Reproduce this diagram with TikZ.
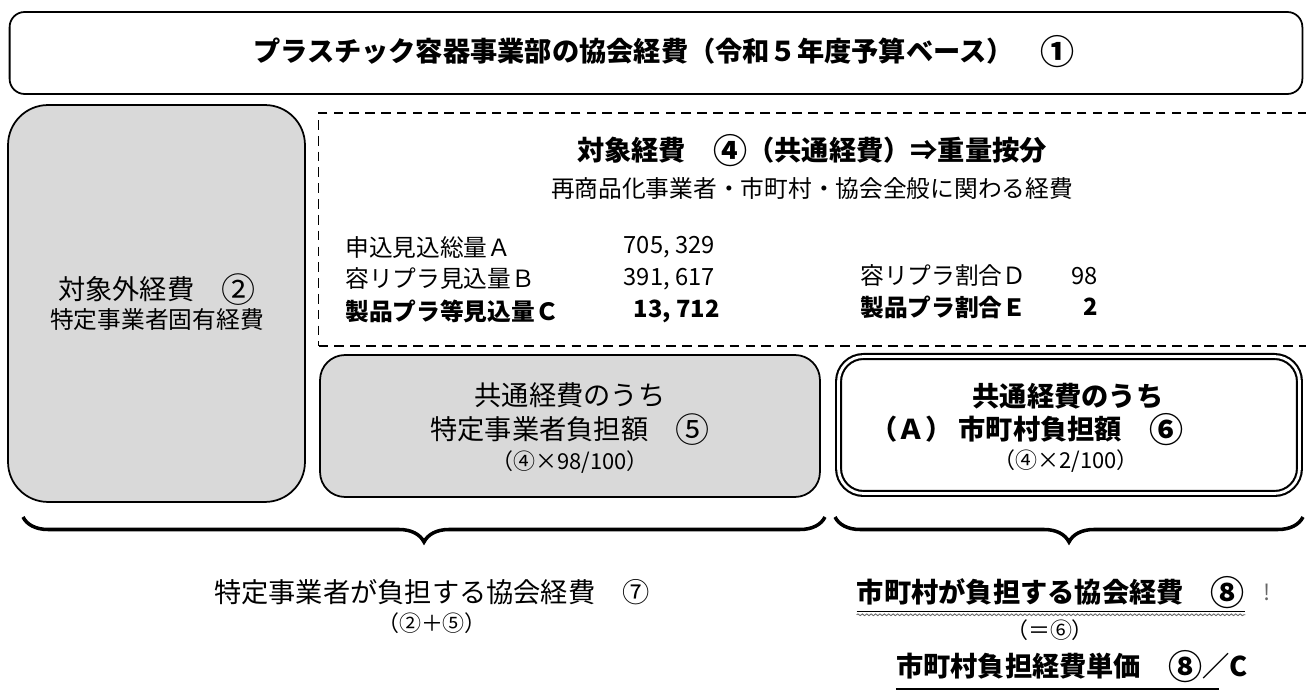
\documentclass[tikz,border=0pt]{standalone}
\usepackage{fontspec}
\setmainfont{Noto Sans CJK JP}
\usetikzlibrary{shapes,arrows,positioning,decorations.pathreplacing,decorations.pathmorphing}
\tikzstyle{panel} = [rectangle, draw=black, line width=1pt, inner sep=0pt]
\tikzstyle{grey} = [panel, fill=black!15]
\tikzstyle{big} = [inner sep=0pt, font=\fontsize{15.5}{18}\selectfont]
\tikzstyle{bigb} = [inner sep=0pt, font=\fontsize{15.5}{18}\selectfont\bfseries]
\tikzstyle{mid} = [inner sep=0pt, font=\fontsize{13.5}{16}\selectfont]
\tikzstyle{midb} = [inner sep=0pt, font=\fontsize{13.5}{16}\selectfont\bfseries]
\tikzstyle{small} = [inner sep=0pt, font=\fontsize{12.5}{15}\selectfont]
\tikzstyle{brc} = [decorate, decoration={brace, mirror, amplitude=0.5cm, aspect=0.5}, line width=2pt]
\newcommand{\cnum}[1]{\raisebox{-0.12em}{\scalebox{1.25}{#1}}}

\begin{document}
\begin{tikzpicture}[x=0.02cm, y=-0.02cm, node distance=0.6cm]
		\useasboundingbox (0,0) rectangle (1306,695);
		% boxes
		\node[panel, rounded corners=0.3cm, minimum width=25.86cm, minimum height=1.64cm] (top) at (656,53) {};
		\node[grey, rounded corners=0.8cm, minimum width=5.94cm, minimum height=7.94cm] (outer) at (156.5,303.5) {};
		\node[panel, dashed, dash pattern=on 5.5pt off 3.5pt, line width=1pt, minimum width=19.9cm, minimum height=4.66cm] (common) at (816,229.5) {};
		\node[grey, rounded corners=0.5cm, minimum width=10cm, minimum height=2.84cm] (five) at (570,426) {};
		\node[panel, double, line width=1.2pt, double distance=1.6pt, rounded corners=0.5cm, minimum width=9.22cm, minimum height=2.74cm] (six) at (1069,425) {};

		% texts
		\node[bigb] (title) at (664,52) {プラスチック容器事業部の協会経費（令和５年度予算ベース）　\cnum{①}};
		\node[big] (outert) at (157,290) {対象外経費　\cnum{②}};
		\node[mid, below of=outert] (outers) {特定事業者固有経費};
		\node[bigb] (commont) at (812,151) {対象経費　\cnum{④}（共通経費）⇒重量按分};
		\node[mid] (commons) at (812,188) {再商品化事業者・市町村・協会全般に関わる経費};
		\node[mid, anchor=west] (rowA) at (345,247) {申込見込総量Ａ};
		\node[mid, anchor=west] (rowB) at (345,279) {容リプラ見込量Ｂ};
		\node[midb, anchor=west] (rowC) at (345,311) {製品プラ等見込量Ｃ};
		\node[mid, anchor=east] (valA) at (715,247) {705, 329};
		\node[mid, anchor=east] (valB) at (715,279) {391, 617};
		\node[midb, anchor=east] (valC) at (720,311) {13, 712};
		\node[mid, anchor=west] (rowD) at (860,276) {容リプラ割合Ｄ};
		\node[mid, anchor=east] (valD) at (1098,276) {98};
		\node[midb, anchor=west] (rowE) at (860,307) {製品プラ割合Ｅ};
		\node[midb, anchor=east] (valE) at (1098,307) {2};
		\node[big] (fivea) at (570,395) {共通経費のうち};
		\node[big] (fiveb) at (570,430) {特定事業者負担額　\cnum{⑤}};
		\node[small] (fivec) at (570,462) {（④×98/100）};
		\node[bigb] (sixa) at (1068,396) {共通経費のうち};
		\node[bigb] (sixb) at (1027,430) {（Ａ） 市町村負担額　\cnum{⑥}};
		\node[small] (sixc) at (1066,461) {（④×2/100）};

		% braces
		\coordinate (bl) at (23,517);
		\coordinate (bm) at (825,517);
		\coordinate (cl) at (835,517);
		\coordinate (cr) at (1303,517);
		\draw[brc] (bl) -- (bm);
		\draw[brc] (cl) -- (cr);

		\node[big] (seven) at (432,592) {特定事業者が負担する協会経費　⑦};
		\node[small] (sevenf) at (432,623) {（②＋⑤）};
		\node[bigb] (eight) at (1051,593) {市町村が負担する協会経費　\cnum{⑧}};
		\node[small, anchor=west, text=black!60] (bang) at (1263,592) {!};
		\node[small] (eightf) at (1050,630) {（＝⑥）};
		\node[bigb] (unit) at (1072,667) {市町村負担経費単価　\cnum{⑧}／C};
		\draw[line width=0.8pt] ([yshift=-1pt]eight.south west)--([yshift=-1pt]eight.south east);
		\draw[black!60, line width=0.5pt, decorate, decoration={snake, amplitude=0.5pt, segment length=2.5pt}] ([yshift=-3pt]eight.south west)--([yshift=-3pt]eight.south east);
		\draw[line width=0.9pt] ([yshift=-3pt]unit.south west)--([xshift=-0.58cm, yshift=-3pt]unit.south east);
	\end{tikzpicture}
\end{document}
